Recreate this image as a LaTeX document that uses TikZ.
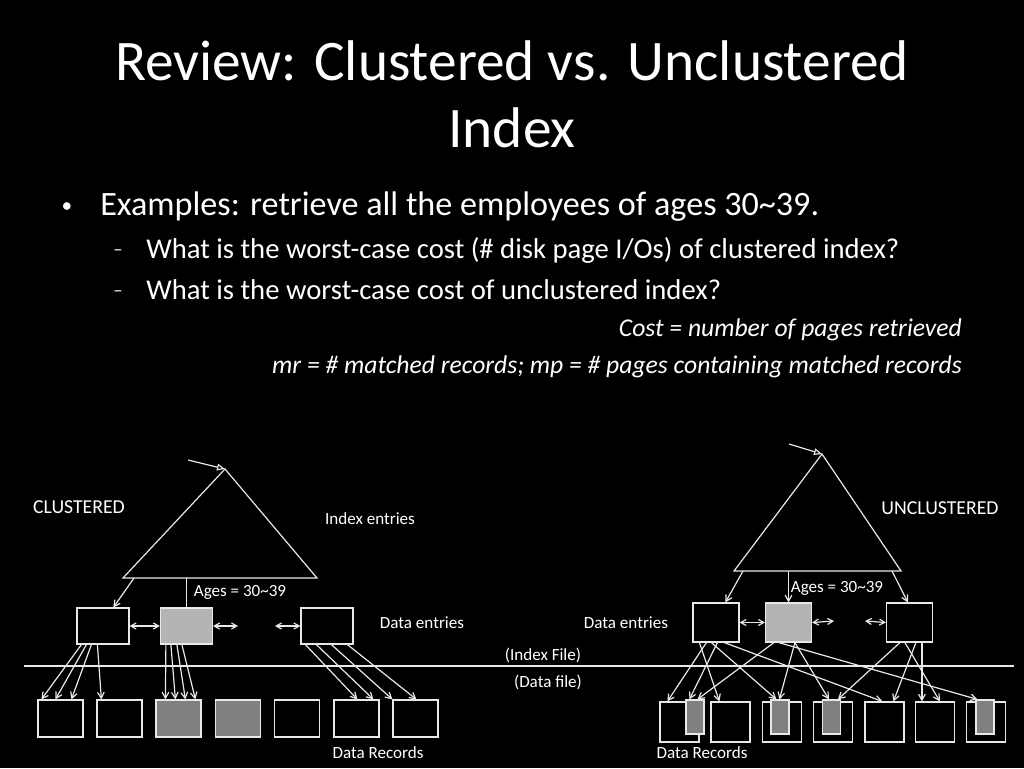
\documentclass[tikz,border=0pt]{standalone}
\usepackage{fontspec}
\setmainfont{Carlito}
\usetikzlibrary{arrows.meta,calc}
\definecolor{ln}{HTML}{E8E8E8}
\definecolor{lgrey}{HTML}{B4B4B4}
\definecolor{dgrey}{HTML}{808080}
\begin{document}
\begin{tikzpicture}[x=0.75pt,y=-0.75pt,
  wl/.style={draw=ln,line width=0.9pt},
  arr/.style={wl,-{Straight Barb[length=4.5pt,width=5pt]}},
  darr/.style={wl,{Straight Barb[length=4pt,width=4.5pt]}-{Straight Barb[length=4pt,width=4.5pt]}},
  entryarr/.style={wl,-{Triangle[open,length=6pt,width=5pt]}},
  txt/.style={text=white,inner sep=0pt},
  lab/.style={txt,font=\fontsize{12.8}{15}\selectfont},
  caplab/.style={txt,font=\fontsize{14.8}{17}\selectfont},
  cde/.style={wl,inner sep=0pt,minimum width=39pt,minimum height=27pt},
  crec/.style={wl,inner sep=0pt,minimum width=33.75pt,minimum height=27.75pt},
  ude/.style={wl,inner sep=0pt,minimum width=34.5pt,minimum height=29.25pt},
  urec/.style={wl,inner sep=0pt,minimum width=29.25pt,minimum height=30pt},
  ugr/.style={wl,fill=dgrey,inner sep=0pt,minimum width=13.5pt,minimum height=25.5pt}]
\fill[black] (0,0) rectangle (1024,768);
\useasboundingbox (0,0) rectangle (1024,768);

% ---------- text ----------
\node[txt,anchor=base,font=\fontsize{43}{50}\selectfont] (t1) at (512,80) {Review: Clustered vs. Unclustered};
\node[txt,anchor=base,font=\fontsize{43}{50}\selectfont] (t2) at (512,147) {Index};
\node[txt,font=\fontsize{16}{18}\selectfont] (b0) at (67,208) {•};
\node[txt,anchor=base west,font=\fontsize{25.6}{30}\selectfont] (b1) at (100,215) {Examples: retrieve all the employees of ages 30\textasciitilde39.};
\node[txt,font=\fontsize{14}{16}\selectfont] (d1) at (118,253) {–};
\node[txt,anchor=base west,font=\fontsize{21.5}{25}\selectfont] (s1) at (146,258) {What is the worst-case cost (\# disk page I/Os) of clustered index?};
\node[txt,font=\fontsize{14}{16}\selectfont] (d2) at (118,294) {–};
\node[txt,anchor=base west,font=\fontsize{21.5}{25}\selectfont] (s2) at (146,299) {What is the worst-case cost of unclustered index?};
\node[txt,anchor=base east,font=\itshape\fontsize{19.2}{22}\selectfont] (c1) at (962,336) {Cost = number of pages retrieved};
\node[txt,anchor=base east,font=\itshape\fontsize{19.2}{22}\selectfont] (c2) at (962,373) {mr = \# matched records; mp = \# pages containing matched records};

% ---------- divider ----------
\draw[draw=ln,line width=1.1pt] (24,666) coordinate (hl) -- (1014,666) coordinate (hr);
\node[lab] (ixf) at (543,655) {(Index File)};
\node[lab] (dtf) at (548,682) {(Data file)};

% ---------- CLUSTERED ----------
\node[caplab] (clab) at (79,507) {CLUSTERED};
\node[lab] (cie) at (370,519) {Index entries};
\node[lab] (cage) at (240,592) {Ages = 30\textasciitilde39};
\node[lab] (cdel) at (422,623) {Data entries};
\node[lab] (cdr) at (378,753) {Data Records};

\coordinate (cap) at (225,469);
\coordinate (cbl) at (123,578);
\coordinate (cbr) at (317,578);
\draw[wl] (cap) -- (cbl) -- (cbr) -- cycle;
\coordinate (cin) at (188,460);
\draw[entryarr] (cin) -- (cap);

\node[cde] (cb1) at (103,626) {};
\node[cde,fill=lgrey] (cb2) at (186.5,626) {};
\node[cde] (cb3) at (327,626) {};

\draw[arr] (134,578) coordinate (cl0) -- ($(cb1.north west)+(37,0)$);
\draw[wl] (186.5,578) coordinate (cm0) -- (cb2.north);

\draw[darr] (cb1.east) -- (cb2.west);
\coordinate (cx1) at (238,626);
\coordinate (cx2) at (275,626);
\draw[darr] (cb2.east) -- (cx1);
\draw[darr] (cx2) -- (cb3.west);

\foreach \i/\x/\f in {1/60.5/,2/119.5/,3/178.5/dgrey,4/238/dgrey,5/297/,6/356.5/,7/415.5/}{
  \ifx\f\empty
    \node[crec] (cr\i) at (\x,718.5) {};
  \else
    \node[crec,fill=\f] (cr\i) at (\x,718.5) {};
  \fi
}

\foreach \s/\r/\e in {5/1/4,10/1/18,15/1/34,21/2/5}{
  \draw[arr] ($(cb1.south west)+(\s,0)$) -- ($(cr\r.north west)+(\e,0)$);
}
\foreach \s/\e in {6/10,11/20,17/30,22/40}{
  \draw[arr] ($(cb2.south west)+(\s,0)$) -- ($(cr3.north west)+(\e,0)$);
}
\foreach \s/\r/\e in {5/6/24,16/6/40,31/7/0,47/7/24}{
  \draw[arr] ($(cb3.south west)+(\s,0)$) -- ($(cr\r.north west)+(\e,0)$);
}

% ---------- UNCLUSTERED ----------
\node[caplab] (ulab) at (940,508) {UNCLUSTERED};
\node[lab] (uage) at (837,588) {Ages = 30\textasciitilde39};
\node[lab] (udel) at (626,623) {Data entries};
\node[lab] (udr) at (702,753) {Data Records};

\coordinate (uap) at (822,454);
\coordinate (ubl) at (734,571);
\coordinate (ubr) at (901,571);
\draw[wl] (uap) -- (ubl) -- (ubr) -- cycle;
\coordinate (uin) at (789,444);
\draw[entryarr] (uin) -- (uap);

\node[ude] (ub1) at (716,622.5) {};
\node[ude,fill=lgrey] (ub2) at (788.5,622.5) {};
\node[ude] (ub3) at (909.5,622.5) {};

\draw[arr] (743,571) coordinate (ul0) -- ($(ub1.north west)+(33,0)$);
\draw[arr] (788.5,571) coordinate (um0) -- (ub2.north);
\draw[arr] (892,571) coordinate (ur0) -- ($(ub3.north west)+(22,0)$);

\draw[darr] (ub1.east) -- (ub2.west);
\coordinate (ux1) at (834,621);
\coordinate (ux2) at (865,621);
\draw[darr] (ub2.east) -- (ux1);
\draw[darr] (ux2) -- (ub3.west);

\foreach \i/\x in {1/679.5,2/730.5,3/782,4/833,5/884.5,6/935,7/986}{
  \node[urec] (ur\i) at (\x,722) {};
}
\node[ugr] (g1) at (695,717) {};
\node[ugr] (g2) at (780,717) {};
\node[ugr] (g3) at (831.5,717) {};
\node[ugr] (g4) at (985,717) {};

% from ub1
\draw[arr] ($(ub1.south west)+(14,0)$) -- ($(ur1.north west)+(8,0)$);
\draw[arr] ($(ub1.south west)+(7,0)$) -- ($(ur2.north west)+(9,0)$);
\draw[arr] ($(ub1.south west)+(25,0)$) -- ($(g1.north west)+(4,0)$);
\draw[arr] ($(ub1.south west)+(19,0)$) -- ($(g2.north west)+(6,0)$);
\draw[arr] ($(ub1.south west)+(32,0)$) -- ($(ur5.north west)+(18,0)$);
% from ub2
\draw[arr] ($(ub2.south west)+(9,0)$) -- ($(g1.north west)+(12,0)$);
\draw[arr] ($(ub2.south west)+(14,0)$) -- ($(g4.north west)+(2,0)$);
\draw[arr] ($(ub2.south west)+(30,0)$) -- ($(g2.north west)+(9,0)$);
\draw[arr] ($(ub2.south west)+(30,0)$) -- ($(g3.north west)+(7,0)$);
% from ub3
\draw[arr] ($(ub3.south west)+(14,0)$) -- ($(g3.north west)+(16,0)$);
\draw[arr] ($(ub3.south west)+(30,0)$) -- ($(ur5.north west)+(29,0)$);
\draw[arr] ($(ub3.south west)+(19,0)$) -- ($(ur6.north west)+(25,0)$);
\draw[arr] ($(ub3.south west)+(36,0)$) -- ($(ur6.north west)+(7,0)$);
\end{tikzpicture}
\end{document}
